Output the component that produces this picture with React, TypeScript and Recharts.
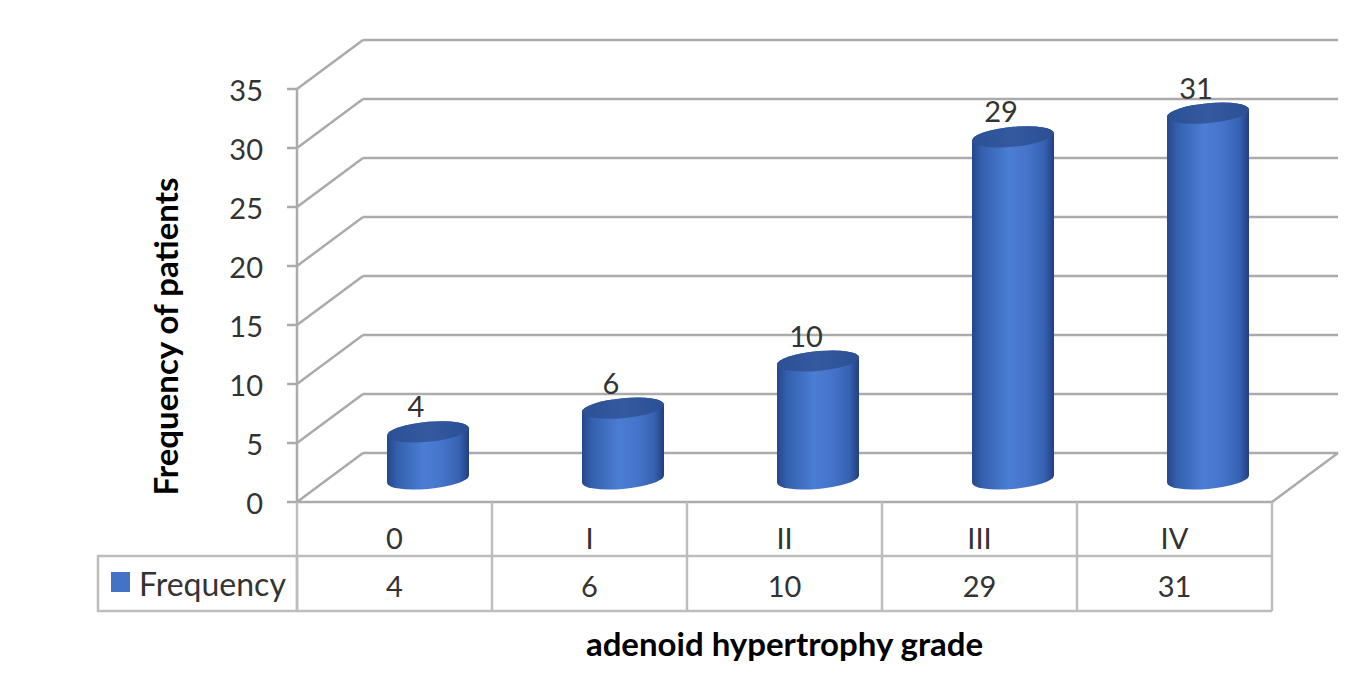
import React from 'react';
import { BarChart, Bar, XAxis, YAxis, CartesianGrid, LabelList, Label } from 'recharts';

// ---- data ----
const categories = ['0', 'I', 'II', 'III', 'IV'];
const frequency = [4, 6, 10, 29, 31];
const yTicks = [0, 5, 10, 15, 20, 25, 30, 35];
const seriesName = 'Frequency';
const xTitle = 'adenoid hypertrophy grade';
const yTitle = 'Frequency of patients';

const data = categories.map((grade, i) => ({ grade, frequency: frequency[i] }));

// ---- layout / style ----
const W = 1367;
const H = 680;
const MARGIN = { top: 89, right: 95, bottom: 0, left: 97 };
const Y_AXIS_W = 200;
const X_AXIS_H = 178;
const PLOT_W = W - MARGIN.left - Y_AXIS_W - MARGIN.right;
const HALF_BAND = PLOT_W / categories.length / 2;
const DX = 66; // depth offset of back wall
const DY = 49;
const HX = 33; // mid-depth offset (bars)
const HY = 23;
const FONT = 'Lato, "Open Sans", "Noto Sans", sans-serif';
const GRID = '#ababab';
const TABLE = '#bdbdbd';
const TEXT = '#333333';
const ROW_H = 54;
const TABLE_H = 109;
const LEGEND_W = 199;

const GridLine = (p: any) => {
  const { x1, x2, y1 } = p;
  return (
    <g key={p.key}>
      <line x1={x1} y1={y1} x2={x1 + DX} y2={y1 - DY} stroke={GRID} strokeWidth={2.5} />
      <line x1={x1 + DX} y1={y1 - DY} x2={x2 + DX} y2={y1 - DY} stroke={GRID} strokeWidth={2.5} />
    </g>
  );
};

const TableTick = (p: any) => {
  const { x, y, payload, index } = p;
  const v = frequency[index];
  const l = x - HALF_BAND;
  const r = x + HALF_BAND;
  const last = index === categories.length - 1;
  return (
    <g>
      <text x={x} y={y + 35} textAnchor="middle" dominantBaseline="central" fontSize={29} fill={TEXT} fontFamily={FONT}>
        {payload.value}
      </text>
      <text x={x} y={y + 83} textAnchor="middle" dominantBaseline="central" fontSize={29} fill={TEXT} fontFamily={FONT}>
        {v}
      </text>
      <line x1={r} y1={y} x2={r} y2={y + TABLE_H} stroke={TABLE} strokeWidth={2.5} />
      <line x1={l} y1={y + ROW_H} x2={r} y2={y + ROW_H} stroke={TABLE} strokeWidth={2.5} />
      <line x1={l} y1={y + TABLE_H} x2={r} y2={y + TABLE_H} stroke={TABLE} strokeWidth={2.5} />
      {index === 0 && (
        <g>
          <line x1={l} y1={y} x2={l} y2={y + TABLE_H} stroke={TABLE} strokeWidth={2.5} />
          <rect x={l - LEGEND_W} y={y + ROW_H} width={LEGEND_W} height={TABLE_H - ROW_H} fill="none" stroke={TABLE} strokeWidth={2.5} />
          <rect x={l - 186} y={y + 70} width={19} height={20} fill="#4472c4" />
          <text x={l - 158} y={y + 81} dominantBaseline="central" fontSize={32} fill={TEXT} fontFamily={FONT}>
            {seriesName}
          </text>
        </g>
      )}
      {last && <line x1={r} y1={y} x2={r + DX} y2={y - DY} stroke={GRID} strokeWidth={2.5} />}
    </g>
  );
};

const YTick = (p: any) => {
  const { x, y, payload } = p;
  return (
    <text x={x} y={y} textAnchor="end" dominantBaseline="central" fontSize={29} fill={TEXT} fontFamily={FONT}>
      {payload.value}
    </text>
  );
};

const Cylinder = (p: any) => {
  const { x, y, width, height } = p;
  if (height == null || width == null) return null;
  const cx = x + width / 2 + HX;
  const top = y - HY;
  const bot = y + height - HY;
  const rx = width / 2;
  const ry = 10;
  const d = `M${cx - rx},${top} L${cx - rx},${bot} A${rx},${ry} 0 0 0 ${cx + rx},${bot} L${cx + rx},${top} A${rx},${ry} 0 0 0 ${cx - rx},${top} Z`;
  return (
    <g transform={`translate(${cx},0) skewY(-5) translate(${-cx},0)`}>
      <path d={d} fill="url(#cylBody)" />
      <ellipse cx={cx} cy={top} rx={rx} ry={ry} fill="url(#cylTop)" />
    </g>
  );
};

const BarLabel = (p: any) => {
  const { x, y, width, value } = p;
  return (
    <text
      x={Number(x) + Number(width) / 2 + HX - 12}
      y={Number(y) - HY - 26}
      textAnchor="middle"
      dominantBaseline="central"
      fontSize={29}
      fill={TEXT}
      fontFamily={FONT}
    >
      {value}
    </text>
  );
};

const YTitle = (p: any) => {
  const vb = p.viewBox || { x: MARGIN.left, y: MARGIN.top, width: Y_AXIS_W, height: 413 };
  const tx = vb.x + 68;
  const ty = vb.y + vb.height / 2 + 41;
  return (
    <text x={tx} y={ty} transform={`rotate(-90 ${tx} ${ty})`} textAnchor="middle" dominantBaseline="central" fontSize={33} fontWeight="bold" fill="#000" fontFamily={FONT}>
      {yTitle}
    </text>
  );
};

const XTitle = (p: any) => {
  const vb = p.viewBox || { x: MARGIN.left + Y_AXIS_W, y: H - X_AXIS_H, width: PLOT_W, height: X_AXIS_H };
  return (
    <text x={vb.x + vb.width / 2} y={vb.y + 141} textAnchor="middle" dominantBaseline="central" fontSize={33} fontWeight="bold" fill="#000" fontFamily={FONT}>
      {xTitle}
    </text>
  );
};

export default function App() {
  return (
    <div style={{ width: W, height: H, background: '#fff' }}>
      <style>{`body{margin:0;background:#fff}`}</style>
      <BarChart width={W} height={H} data={data} margin={MARGIN} barSize={82}>
        <defs>
          <linearGradient id="cylBody" x1="0" y1="0" x2="1" y2="0">
            <stop offset="0%" stopColor="#25478a" />
            <stop offset="12%" stopColor="#3460ad" />
            <stop offset="45%" stopColor="#4a7dd4" />
            <stop offset="65%" stopColor="#4676cc" />
            <stop offset="88%" stopColor="#3662b2" />
            <stop offset="100%" stopColor="#233f80" />
          </linearGradient>
          <linearGradient id="cylTop" x1="0" y1="0" x2="1" y2="0">
            <stop offset="0%" stopColor="#2c5094" />
            <stop offset="50%" stopColor="#35599f" />
            <stop offset="100%" stopColor="#2b4f93" />
          </linearGradient>
        </defs>
        <CartesianGrid vertical={false} horizontal={GridLine} />
        <YAxis
          type="number"
          domain={[0, 35]}
          ticks={yTicks}
          interval={0}
          width={Y_AXIS_W}
          tickSize={10}
          tickMargin={24}
          tick={YTick}
          axisLine={{ stroke: GRID, strokeWidth: 2.5 }}
          tickLine={{ stroke: GRID, strokeWidth: 2.5 }}
          label={<Label content={YTitle} />}
        />
        <XAxis
          dataKey="grade"
          type="category"
          height={X_AXIS_H}
          interval={0}
          tickSize={0}
          tickMargin={0}
          tickLine={false}
          tick={TableTick}
          axisLine={{ stroke: GRID, strokeWidth: 2.5 }}
          label={<Label content={XTitle} />}
        />
        <Bar dataKey="frequency" name={seriesName} fill="#4472c4" shape={Cylinder} isAnimationActive={false}>
          <LabelList dataKey="frequency" content={BarLabel} />
        </Bar>
      </BarChart>
    </div>
  );
}
